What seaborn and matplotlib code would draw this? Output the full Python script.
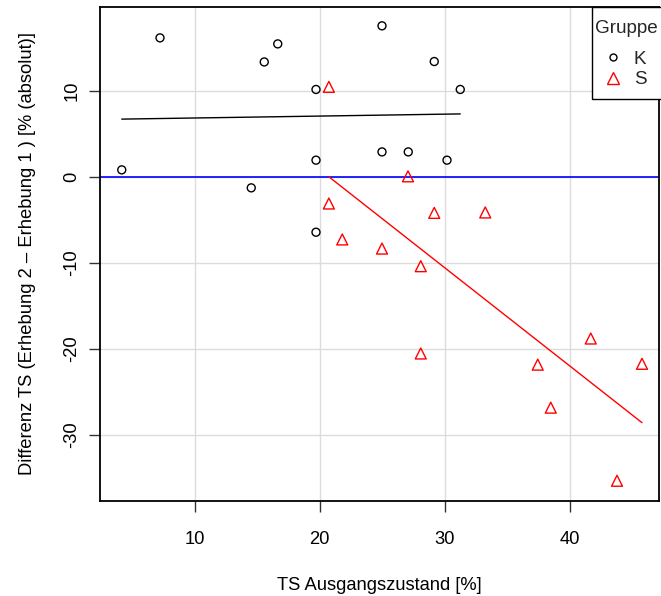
import numpy as np
import pandas as pd
import matplotlib
matplotlib.use("Agg")
import matplotlib.pyplot as plt
from matplotlib.lines import Line2D
from matplotlib.patches import Rectangle
import seaborn as sns

# Data
k_x = [4.18, 7.24, 15.58, 16.66, 14.54, 19.72, 19.72, 19.72, 25.0, 25.0, 27.1, 29.18, 30.2, 31.26]
k_y = [0.85, 16.2, 13.4, 15.5, -1.24, 10.2, 1.98, -6.4, 17.6, 2.94, 2.94, 13.45, 1.98, 10.2]
s_x = [20.75, 27.08, 20.75, 21.82, 25.0, 29.18, 33.26, 28.1, 28.1, 37.46, 41.7, 38.5, 45.8, 43.8]
s_y = [10.5, 0.1, -3.06, -7.24, -8.3, -4.15, -4.1, -10.35, -20.5, -21.8, -18.76, -26.8, -21.7, -35.3]
groups = ["K", "S"]
x_ticks = [10, 20, 30, 40]
y_ticks = [-30, -20, -10, 0, 10]

df = pd.DataFrame({
    "x": k_x + s_x,
    "y": k_y + s_y,
    "Gruppe": ["K"] * len(k_x) + ["S"] * len(s_x),
})

sns.set_theme(style="whitegrid")
plt.rcParams["font.family"] = ["Liberation Sans", "DejaVu Sans"]

FS = 13.2

W, H = 661, 596
fig = plt.figure(figsize=(W / 100, H / 100), dpi=100)
ax = fig.add_axes([100 / W, 1 - 500.7 / H, 559 / W, 493.7 / H])
ax.set_facecolor("white")

colors = {"K": "black", "S": "red"}
markers = {"K": "o", "S": "^"}
sizes = {"K": 33, "S": 62}

ax.axhline(0, color="blue", lw=1.2, zorder=1)

for g in groups:
    sub = df[df["Gruppe"] == g]
    sns.scatterplot(data=sub, x="x", y="y", marker=markers[g], s=sizes[g],
                    facecolors="none", edgecolor=colors[g], linewidth=1.0,
                    ax=ax, legend=False, zorder=3)
    sns.regplot(data=sub, x="x", y="y", scatter=False, ci=None, truncate=True,
                line_kws={"color": colors[g], "lw": 1.0}, ax=ax)

ax.set_xlim(2.44, 47.16)
ax.set_ylim(-37.62, 19.79)
ax.set_xticks(x_ticks)
ax.set_yticks(y_ticks)
ax.set_xticklabels([str(v) for v in x_ticks])
ax.set_yticklabels([str(v) for v in y_ticks], rotation=90, va="center")

ax.grid(True, color="#dcdcdc", lw=1.0)
ax.set_axisbelow(True)
for sp in ax.spines.values():
    sp.set_color("black")
    sp.set_linewidth(1.3)

ax.tick_params(axis="both", which="major", direction="out", length=8, width=1,
               color="#333333", labelsize=FS, labelcolor="black",
               bottom=True, left=True, top=False, right=False)
ax.tick_params(axis="x", pad=14)
ax.tick_params(axis="y", pad=6)

ax.set_xlabel("TS Ausgangszustand [%]", fontsize=FS, labelpad=21, color="black")
ax.set_ylabel("Differenz TS (Erhebung 2 \u2013 Erhebung 1 ) [% (absolut)]",
              fontsize=FS, labelpad=19.5, color="black")

# legend box (R-style)
fig.patches.append(Rectangle((592 / W, 1 - 99 / H), 70 / W, 92 / H,
                             transform=fig.transFigure, fill=True,
                             facecolor="white", edgecolor="black", lw=1.0,
                             zorder=10))

handles = [
    Line2D([], [], marker="o", ls="none", mfc="none", mec="black", ms=5, mew=1.0),
    Line2D([], [], marker="^", ls="none", mfc="none", mec="red", ms=8, mew=1.0),
]
leg = fig.legend(handles, groups, title="Gruppe", loc="upper left",
                 bbox_to_anchor=(595 / W, 1 - 20 / H), frameon=False,
                 fontsize=13.6, title_fontsize=13.6, alignment="left",
                 borderpad=0, handletextpad=0.15, handlelength=1.9,
                 labelspacing=0.16, borderaxespad=0)
leg.set_zorder(11)
leg._legend_box.sep = 10.0

fig.savefig("out.png", dpi=100, facecolor="white")
